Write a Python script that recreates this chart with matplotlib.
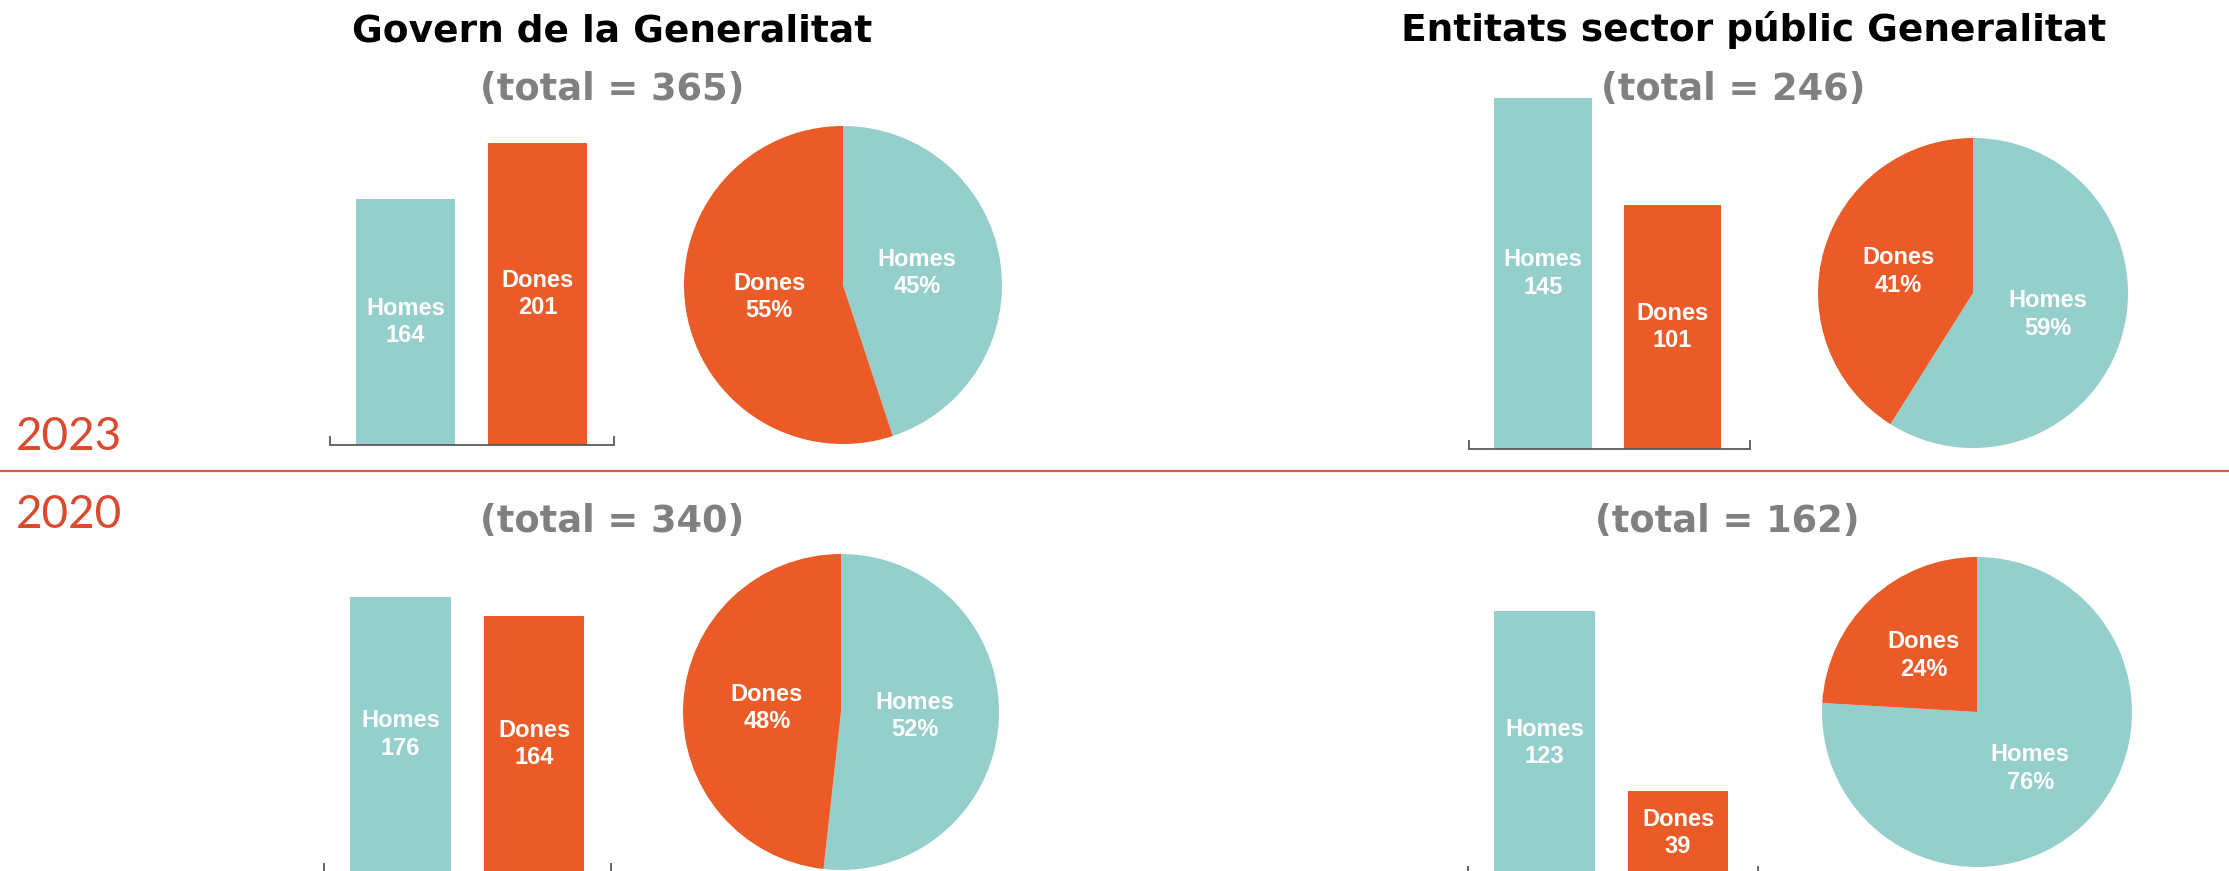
import numpy as np
import matplotlib
matplotlib.use("Agg")
import matplotlib.pyplot as plt

# data
cats = ['Homes', 'Dones']
govern_2023 = [164, 201]
entitats_2023 = [145, 101]
govern_2020 = [176, 164]
entitats_2020 = [123, 39]
years = ['2023', '2020']
titles = ['Govern de la Generalitat', 'Entitats sector públic Generalitat']

teal = '#94CFCC'
orange = '#EA5B27'
red = '#DB4A2E'
W, H = 2229, 871
DPI = 100

fig = plt.figure(figsize=(W / DPI, H / DPI), dpi=DPI)


def px_axes(left, top, width, height):
    # pixel box (from top-left) -> figure fraction
    return fig.add_axes([left / W, 1 - (top + height) / H, width / W, height / H])


def bar_panel(vals, cx0, step, base_y, scale, x1=1.58):
    x0 = -0.57
    ymax = max(vals) * 1.05
    ax = px_axes(cx0 + x0 * step, base_y - ymax * scale, (x1 - x0) * step, ymax * scale)
    ax.bar(range(len(vals)), vals, width=0.75, color=[teal, orange])
    ax.set_xlim(x0, x1)
    ax.set_ylim(0, ymax)
    for s in ['top', 'left', 'right']:
        ax.spines[s].set_visible(False)
    ax.spines['bottom'].set_color('#595959')
    ax.spines['bottom'].set_linewidth(1.3)
    ax.set_xticks([x0, x1])
    ax.set_xticklabels(['', ''])
    ax.tick_params(axis='x', direction='in', length=6.5, width=1.3, color='#595959')
    ax.set_yticks([])
    for i, v in enumerate(vals):
        ax.text(i, v / 2, '%s\n%d' % (cats[i], v), ha='center', va='center',
                color='white', fontsize=17, fontweight='bold',
                family='Liberation Sans', linespacing=1.25)
    ax.patch.set_alpha(0)
    return ax


def pie_panel(vals, cx, cy, r, ld=0.47):
    ax = px_axes(cx - r, cy - r, 2 * r, 2 * r)
    tot = sum(vals)
    labels = ['%s\n%d%%' % (c, round(100 * v / tot)) for c, v in zip(cats, vals)]
    wedges, texts = ax.pie(vals, colors=[teal, orange], startangle=90, counterclock=False,
                           labels=labels, labeldistance=ld,
                           textprops=dict(color='white', fontsize=17, fontweight='bold',
                                          family='Liberation Sans', linespacing=1.25))
    for t in texts:
        t.set_ha('center')
        t.set_va('center')
    ax.set_xlim(-1, 1)
    ax.set_ylim(-1, 1)
    ax.set_aspect('equal')
    ax.axis('off')
    return ax


bar_panel(govern_2023, 405.5, 132, 445, 1.5)
bar_panel(entitats_2023, 1543, 129.5, 449, 2.42, x1=1.6)
bar_panel(govern_2020, 400.5, 133.5, 872, 1.5625)
bar_panel(entitats_2020, 1544.5, 133.5, 875, 2.143, x1=1.6)

pie_panel(govern_2023, 843, 285, 159)
pie_panel(entitats_2023, 1973, 293, 155, ld=0.5)
pie_panel(govern_2020, 841, 712, 158)
pie_panel(entitats_2020, 1977, 712, 155, ld=0.5)

# titles and totals
tkw = dict(family='DejaVu Sans', fontweight='bold', ha='center', va='baseline')
fig.text(612 / W, 1 - 41 / H, titles[0], color='black', fontsize=27, **tkw)
fig.text(1754 / W, 1 - 41 / H, titles[1], color='black', fontsize=27, **tkw)
fig.text(612 / W, 1 - 100 / H, '(total = %d)' % sum(govern_2023), color='#808080', fontsize=26.5, **tkw)
fig.text(1733 / W, 1 - 100 / H, '(total = %d)' % sum(entitats_2023), color='#808080', fontsize=26.5, **tkw)
fig.text(612 / W, 1 - 532 / H, '(total = %d)' % sum(govern_2020), color='#808080', fontsize=26.5, **tkw)
fig.text(1727 / W, 1 - 532 / H, '(total = %d)' % sum(entitats_2020), color='#808080', fontsize=26.5, **tkw)

# year labels and separator
ykw = dict(family='Lato', fontweight='normal', fontsize=33, color=red, ha='left', va='baseline')
fig.text(16 / W, 1 - 450 / H, years[0], **ykw)
fig.text(16 / W, 1 - 528 / H, years[1], **ykw)
fig.add_artist(plt.Line2D([0, 1], [1 - 471 / H, 1 - 471 / H], color='#E0583C', lw=1.6,
                          transform=fig.transFigure))

fig.savefig('out.png', dpi=DPI)
